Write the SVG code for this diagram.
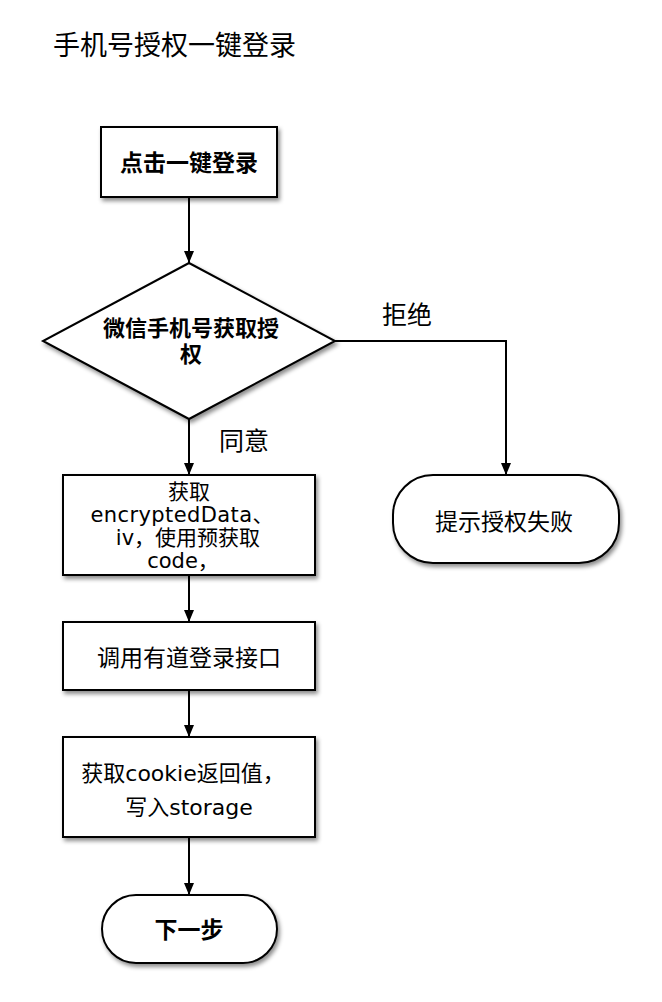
<svg xmlns="http://www.w3.org/2000/svg" width="662" height="1002" viewBox="0 0 662 1002">
  <defs>
    <filter id="shadow" x="-10%" y="-10%" width="130%" height="140%">
      <feDropShadow dx="2" dy="3" stdDeviation="2" flood-color="#000" flood-opacity="0.45"/>
    </filter>
    <marker id="arrow" viewBox="0 0 12 10" refX="12" refY="5" markerWidth="12" markerHeight="10" markerUnits="userSpaceOnUse" orient="auto">
      <path d="M0,0 L12,5 L0,10 z" fill="#000"/>
    </marker>
  </defs>
  <style>
    .shape { fill: #fff; stroke: #000; stroke-width: 2; filter: url(#shadow); }
    .edge { fill: none; stroke: #000; stroke-width: 2; marker-end: url(#arrow); }
    text { font-family: "DejaVu Sans", "Noto Sans CJK SC", sans-serif; fill: #000; text-anchor: middle; }
    .t { font-size: 23px; }
    .s { font-size: 21px; }
    .m { font-size: 22px; }
    .b { font-size: 23px; font-weight: bold; }
    .d { font-size: 22px; font-weight: bold; }
    .lbl { font-size: 25px; }
    .title { font-size: 27px; text-anchor: start; }
  </style>
  <rect width="662" height="1002" fill="#fff"/>

  <text class="title" x="53" y="55">手机号授权一键登录</text>

  <g id="connectors">
    <line class="edge" x1="189" y1="197" x2="189" y2="263"/>
    <line class="edge" x1="189" y1="419" x2="189" y2="475"/>
    <polyline class="edge" points="335,341 506,341 506,475"/>
    <line class="edge" x1="189" y1="575" x2="189" y2="622"/>
    <line class="edge" x1="189" y1="690" x2="189" y2="737"/>
    <line class="edge" x1="189" y1="837" x2="189" y2="895"/>
    <text class="lbl" x="407" y="324">拒绝</text>
    <text class="lbl" x="244" y="450">同意</text>
  </g>

  <g id="start">
    <rect class="shape" x="101" y="127" width="176" height="70"/>
    <text class="b" x="189" y="171">点击一键登录</text>
  </g>

  <g id="decision">
    <polygon class="shape" points="189,263 335,341 189,419 43,341"/>
    <text class="d" x="191" y="336">微信手机号获取授</text>
    <text class="d" x="191" y="362">权</text>
  </g>

  <g id="fetch-data">
    <rect class="shape" x="63" y="475" width="252" height="100"/>
    <text class="s" x="189" y="499">获取</text>
    <text class="s" x="182" y="522" textLength="183">encryptedData、</text>
    <text class="s" x="188" y="545">iv，使用预获取</text>
    <text class="s" x="183" y="568">code，</text>
  </g>

  <g id="login-api">
    <rect class="shape" x="63" y="622" width="252" height="68"/>
    <text class="t" x="189" y="666">调用有道登录接口</text>
  </g>

  <g id="save-cookie">
    <rect class="shape" x="63" y="737" width="252" height="100"/>
    <text class="m" x="183" y="781">获取cookie返回值，</text>
    <text class="m" x="189" y="815">写入storage</text>
  </g>

  <g id="next">
    <rect class="shape" x="102" y="895" width="175" height="68" rx="34" ry="34"/>
    <text class="b" x="189" y="938">下一步</text>
  </g>

  <g id="fail">
    <rect class="shape" x="393" y="475" width="226" height="88" rx="40" ry="40"/>
    <text class="t" x="504" y="530">提示授权失败</text>
  </g>
</svg>
